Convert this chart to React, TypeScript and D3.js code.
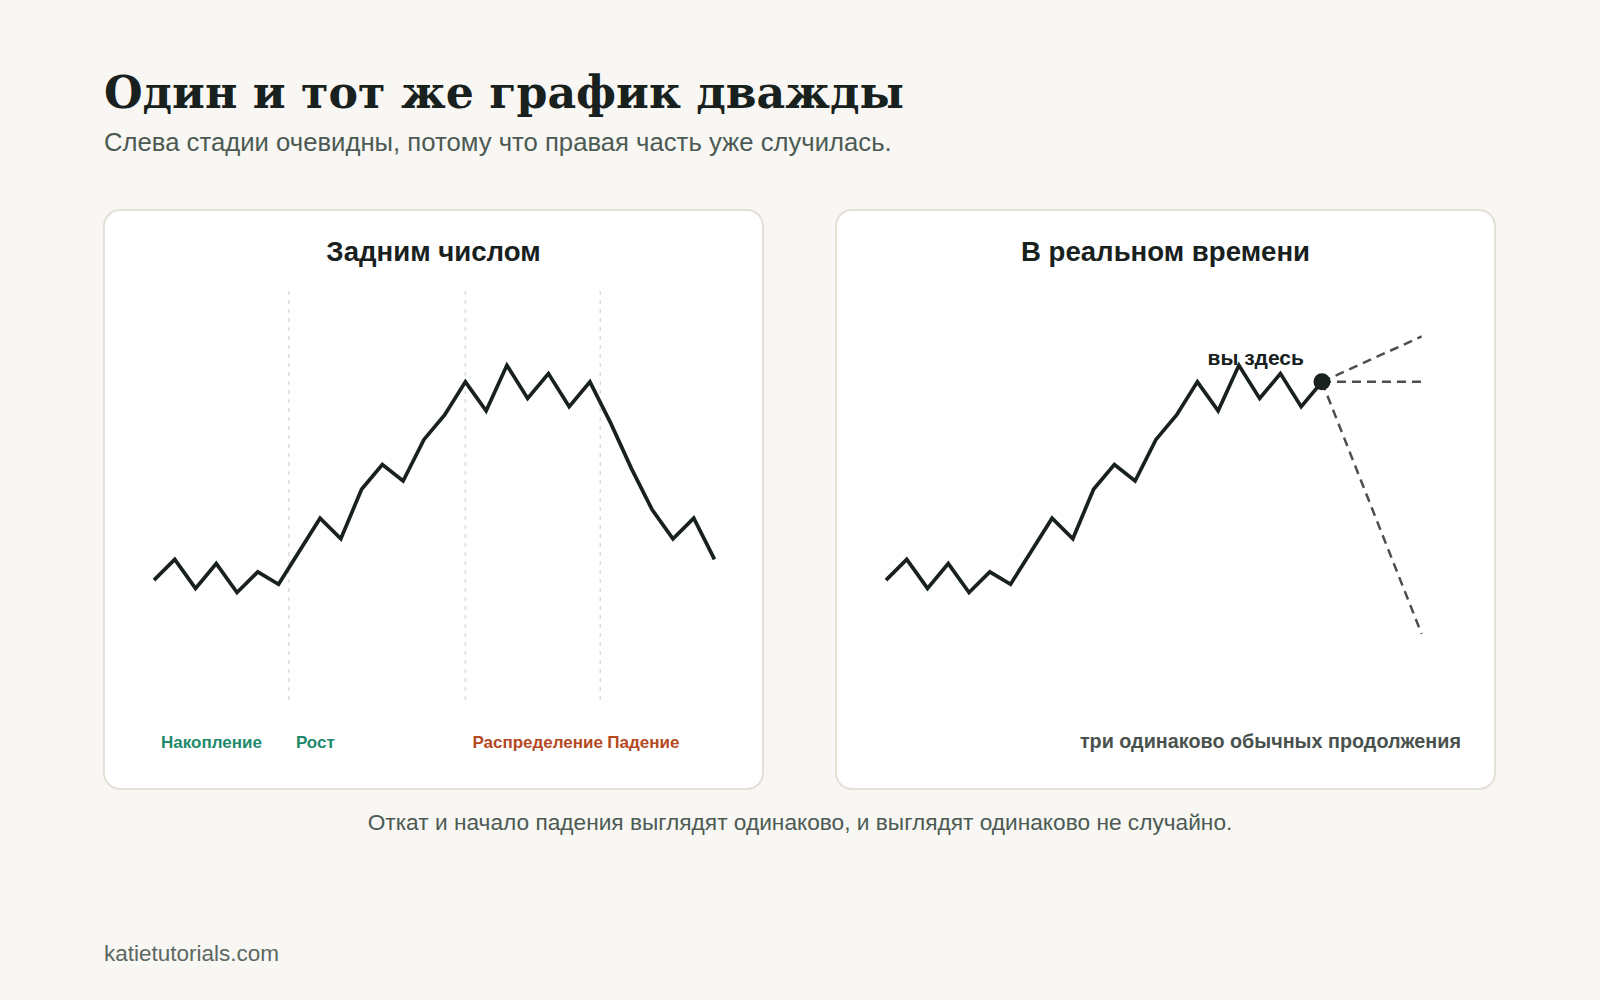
import * as d3 from "d3";

// price path, one value per step
const prices = [30, 35, 28, 34, 27, 32, 29, 37, 45, 40, 52, 58, 54, 64, 70, 78, 71, 82, 74, 80, 72, 78, 68, 57, 47, 40, 45, 35];

const stageNames = ["Накопление", "Рост", "Распределение", "Падение"];
const stageStarts = [0, 6.5, 15, 21.5];
const stageColors = ["#1e8a6b", "#1e8a6b", "#b4491f", "#b4491f"];
const dividers = [6.5, 15, 21.5];

const nowIndex = 21;
const horizonIndex = 25.8;
const scenarioEnds = [89, 78, 17];

const W = 1600;
const H = 1000;
const cardW = 659;
const cardH = 579;
const cardY = 210;
const sans = "'Liberation Sans', Arial, sans-serif";
const ink = "#18211d";

function Card({ x0, title, children }) {
  return (
    <g>
      <rect x={x0} y={cardY} width={cardW} height={cardH} rx={16} fill="#fff" stroke="#e4e0d6" strokeWidth={2} />
      <text x={x0 + cardW / 2} y={cardY + 51} textAnchor="middle" fontFamily={sans} fontWeight={700} fontSize={27.6} fill={ink}>
        {title}
      </text>
      {children}
    </g>
  );
}

function Caption({ x, y }) {
  return (
    <text x={x} y={y} textAnchor="middle" fontFamily={sans} fontSize={22.7} fill="#4c5a53">
      Откат и начало падения выглядят одинаково, и выглядят одинаково не случайно.
    </text>
  );
}

export default function App() {
  const leftX = 104;
  const rightX = 836;
  const y = d3.scaleLinear([0, 100], [704, 291]);
  const xFor = (x0) => d3.scaleLinear([0, prices.length - 1], [x0 + 50, x0 + 610.5]);
  const xl = xFor(leftX);
  const xr = xFor(rightX);

  const lineL = d3.line<number>().x((_, i) => xl(i)).y((d) => y(d));
  const lineR = d3.line<number>().x((_, i) => xr(i)).y((d) => y(d));
  const seen = prices.slice(0, nowIndex + 1);

  return (
    <svg width={W} height={H} style={{ position: "absolute", left: 0, top: 0 }}>
      <rect width={W} height={H} fill="#f8f7f3" />
      <text x={104} y={108} fontFamily="'DejaVu Serif', serif" fontWeight={700} fontSize={44.3} fill={ink}>
        Один и тот же график дважды
      </text>
      <text x={104} y={151} fontFamily={sans} fontSize={25.7} fill="#4c5a53">
        Слева стадии очевидны, потому что правая часть уже случилась.
      </text>

      <Card x0={leftX} title="Задним числом">
        {dividers.map((d) => (
          <line key={d} x1={xl(d)} x2={xl(d)} y1={y(100)} y2={y(0)} stroke="#dcdcdc" strokeWidth={1.5} strokeDasharray="4 5" />
        ))}
        <path d={lineL(prices) ?? ""} fill="none" stroke={ink} strokeWidth={3.7} />
        {stageNames.map((s, i) => (
          <text key={s} x={xl(stageStarts[i]) + 7} y={748} fontFamily={sans} fontWeight={700} fontSize={17} fill={stageColors[i]}>
            {s}
          </text>
        ))}
      </Card>

      <Card x0={rightX} title="В реальном времени">
        {scenarioEnds.map((v) => (
          <line key={v} x1={xr(nowIndex)} y1={y(prices[nowIndex])} x2={xr(horizonIndex)} y2={y(v)} stroke="#4a504d" strokeWidth={2.5} strokeDasharray="9 6" />
        ))}
        <path d={lineR(seen) ?? ""} fill="none" stroke={ink} strokeWidth={3.7} />
        <circle cx={xr(nowIndex)} cy={y(prices[nowIndex])} r={8.5} fill={ink} />
        <text x={xr(nowIndex) - 18} y={y(prices[nowIndex]) - 17} textAnchor="end" fontFamily={sans} fontWeight={700} fontSize={21} fill={ink}>
          вы здесь
        </text>
        <text x={rightX + cardW - 34} y={748} textAnchor="end" fontFamily={sans} fontWeight={700} fontSize={19.8} fill="#4a524e">
          три одинаково обычных продолжения
        </text>
      </Card>

      <Caption x={W / 2} y={830} />
      <text x={104} y={961} fontFamily={sans} fontSize={22.5} fill="#5c6862">
        katietutorials.com
      </text>
    </svg>
  );
}
